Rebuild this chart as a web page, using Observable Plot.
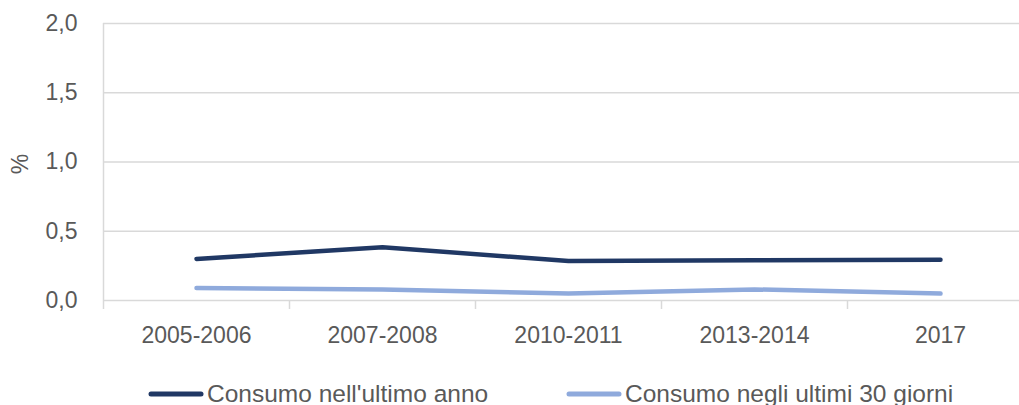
<!DOCTYPE html>
<html>
<head>
<meta charset="utf-8">
<script src="https://cdn.jsdelivr.net/npm/d3@7"></script>
<script src="https://cdn.jsdelivr.net/npm/@observablehq/plot@0.6"></script>
<style>
  html, body { margin: 0; padding: 0; background: #ffffff; }
  body { width: 1019px; height: 405px; overflow: hidden; font-family: "Liberation Sans", Arial, sans-serif; }
  #legend { position: relative; height: 45px; color: #595959; font-size: 24.5px; }
  .item { position: absolute; top: 11px; height: 45px; display: flex; align-items: center; }
  .item svg { display: block; margin-right: 3px; }
</style>
</head>
<body>
<div id="chart"></div>
<div id="legend"></div>
<script>
const periods = ["2005-2006", "2007-2008", "2010-2011", "2013-2014", "2017"];
const seriesNames = ["Consumo nell'ultimo anno", "Consumo negli ultimi 30 giorni"];
const annoValues = [0.30, 0.385, 0.285, 0.29, 0.295];
const trentaValues = [0.09, 0.08, 0.05, 0.08, 0.05];
const yTicks = [0, 0.5, 1.0, 1.5, 2.0];
const colors = ["#203864", "#8faadc"];

const rows = [];
periods.forEach((p, i) => {
  rows.push({series: seriesNames[0], i, value: annoValues[i]});
  rows.push({series: seriesNames[1], i, value: trentaValues[i]});
});
const boundaries = d3.range(periods.length + 1).map(k => k - 0.5);
const fmt = d => d.toFixed(1).replace(".", ",");

const chart = Plot.plot({
  width: 1019,
  height: 360,
  marginLeft: 103,
  marginRight: 0,
  marginTop: 23,
  marginBottom: 60,
  style: {fontFamily: "Liberation Sans, Arial, sans-serif", fontSize: "23px", color: "#595959", background: "#ffffff"},
  x: {domain: [-0.5, periods.length - 0.5], range: [103, 1033]},
  y: {domain: [0, 2]},
  color: {domain: seriesNames, range: colors},
  marks: [
    Plot.ruleY(yTicks, {stroke: "#d9d9d9", strokeWidth: 1.5}),
    Plot.ruleX(boundaries.slice(0, 1), {x: d => d, y1: 2, y2: 0, insetBottom: -9, stroke: "#d9d9d9", strokeWidth: 1.5}),
    Plot.ruleX(boundaries.slice(1), {x: d => d, y1: 0, y2: 0, insetBottom: -9, stroke: "#d9d9d9", strokeWidth: 1.5}),
    Plot.line(rows, {x: "i", y: "value", z: "series", stroke: "series", strokeWidth: 4.5, strokeLinecap: "round", strokeLinejoin: "round", curve: "linear"}),
    Plot.axisY(yTicks, {tickSize: 0, tickPadding: 26, tickFormat: fmt, fill: "#595959", fontSize: 23, label: null}),
    Plot.text(["%"], {frameAnchor: "left", textAnchor: "middle", dx: -83, dy: 2, rotate: -90, fill: "#595959", fontSize: 23, text: d => d}),
    Plot.axisX(periods.map((p, i) => i), {tickSize: 0, tickPadding: 26, tickFormat: i => periods[i], fill: "#595959", fontSize: 23, label: null})
  ]
});
document.getElementById("chart").appendChild(chart);

const legend = document.getElementById("legend");
const lefts = [148, 566];
seriesNames.forEach((name, k) => {
  const item = document.createElement("div");
  item.className = "item";
  item.style.left = lefts[k] + "px";
  item.innerHTML = `<svg width="56" height="10"><line x1="3" y1="5" x2="53" y2="5" stroke="${colors[k]}" stroke-width="5" stroke-linecap="round"/></svg><span>${name}</span>`;
  legend.appendChild(item);
});
</script>
</body>
</html>
